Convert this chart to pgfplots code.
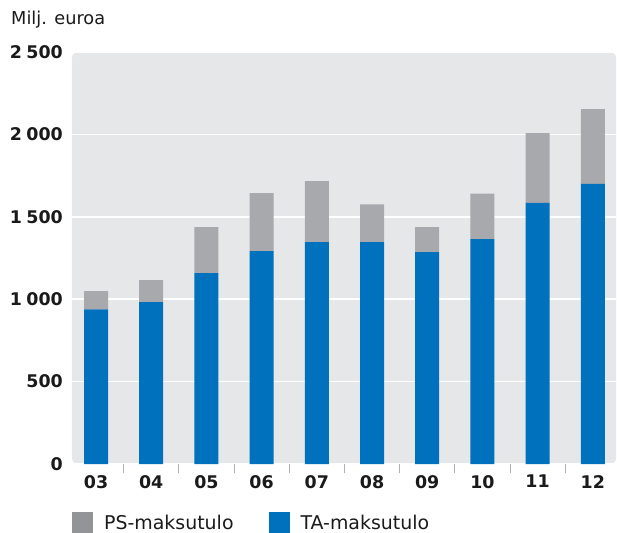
\documentclass[border=0pt]{standalone}
\usepackage{fontspec}
\setmainfont{DejaVu Sans}
\usepackage{pgfplots}
\pgfplotsset{compat=1.18}
\definecolor{tablue}{HTML}{0071BC}
\definecolor{psgrey}{HTML}{A8A9AD}
\definecolor{psgreyleg}{HTML}{939498}
\definecolor{bggrey}{HTML}{E6E7E9}
\definecolor{txt}{HTML}{1A1A1A}
\begin{document}
\begin{tikzpicture}
\path[use as bounding box] (-72bp,-69bp) rectangle (545bp,464bp);
\begin{axis}[
  at={(0,0)}, anchor=south west,
  scale only axis, width=544bp, height=412bp,
  ybar stacked, bar width=24bp,
  ymin=0, ymax=2500, ytick={0,500,...,2500},
  xmin=-0.435, xmax=9.42,
  xtick={0,...,9}, xticklabels={03,04,05,06,07,08,09,10,11,12},
  axis line style={draw=none},
  major tick length=0pt,
  axis background/.style={fill=bggrey, rounded corners=6bp},
  ymajorgrids, grid style={white, line width=1.6bp},
  /pgf/number format/assume math mode=true,
  /pgf/number format/set thousands separator={\hspace{0.25em}},
  yticklabel style={font=\fontsize{17.5}{21}\selectfont\bfseries, text=txt, anchor=east, inner sep=0pt, xshift=-9bp},
  xticklabel style={font=\fontsize{17.5}{21}\selectfont\bfseries, text=txt, anchor=north, inner sep=0pt, yshift=-11bp},
  extra x ticks={0.5,1.5,...,8.5}, extra x tick labels={},
  extra x tick style={major tick length=9bp, tick align=outside, xtick pos=lower, grid=none, tick style={draw=gray!60, line width=1bp}},
  legend style={at={(0,-0.143)}, anchor=west, draw=none, fill=none, legend columns=2,
    font=\fontsize{19}{22}\selectfont, text=txt, inner sep=0pt,
    /tikz/every odd column/.append style={column sep=9bp},
    /tikz/every even column/.append style={column sep=33bp}},
  legend cell align=left,
  reverse legend,
]
\addplot[fill=tablue, draw=none, legend image code/.code={\fill[tablue] (0bp,-10.5bp) rectangle (21bp,10.5bp);}] coordinates {(0,939) (1,982) (2,1158) (3,1292) (4,1346) (5,1346) (6,1286) (7,1365) (8,1584) (9,1700)};
\addlegendentry{TA-maksutulo}
\addplot[fill=psgrey, draw=none, legend image code/.code={\fill[psgreyleg] (0bp,-10.5bp) rectangle (21bp,10.5bp);}] coordinates {(0,110) (1,133) (2,279) (3,351) (4,370) (5,230) (6,151) (7,275) (8,424) (9,454)};
\addlegendentry{PS-maksutulo}
\end{axis}
\node[anchor=west, inner sep=0pt, text=txt, font=\fontsize{17.8}{20}\selectfont] at (-61bp,444bp) {Milj. euroa};
\end{tikzpicture}
\end{document}
